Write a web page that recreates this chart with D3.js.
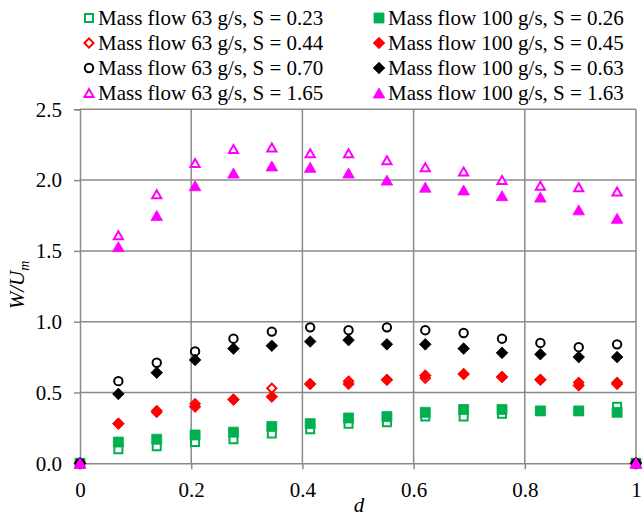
<!DOCTYPE html>
<html>
<head>
<meta charset="utf-8">
<script src="https://cdn.jsdelivr.net/npm/d3@7"></script>
<style>
  html, body { margin: 0; padding: 0; background: #fff; }
  svg { display: block; }
  text { font-family: "Liberation Serif", "Times New Roman", serif; }
</style>
</head>
<body>
<svg id="chart" width="642" height="517"></svg>
<script>
// ---- data ----
const dValues = [0, 0.069, 0.138, 0.207, 0.276, 0.345, 0.414, 0.483, 0.552, 0.621, 0.690, 0.759, 0.828, 0.897, 0.966, 1];

const seriesNames = [
  "Mass flow 63 g/s, S = 0.23", "Mass flow 100 g/s, S = 0.26",
  "Mass flow 63 g/s, S = 0.44", "Mass flow 100 g/s, S = 0.45",
  "Mass flow 63 g/s, S = 0.70", "Mass flow 100 g/s, S = 0.63",
  "Mass flow 63 g/s, S = 1.65", "Mass flow 100 g/s, S = 1.63"
];

const green63  = [0, 0.10, 0.12, 0.15, 0.17, 0.21, 0.24, 0.28, 0.29, 0.33, 0.33, 0.35, 0.37, 0.37, 0.40, 0];
const green100 = [0, 0.15, 0.17, 0.20, 0.22, 0.26, 0.28, 0.32, 0.33, 0.36, 0.38, 0.38, 0.37, 0.37, 0.36, 0];
const red63    = [0, 0.28, 0.36, 0.42, 0.45, 0.53, 0.56, 0.58, 0.59, 0.60, 0.63, 0.61, 0.59, 0.57, 0.57, 0];
const red100   = [0, 0.28, 0.37, 0.40, 0.45, 0.47, 0.56, 0.56, 0.59, 0.62, 0.63, 0.61, 0.59, 0.55, 0.56, 0];
const black63  = [0, 0.58, 0.71, 0.79, 0.88, 0.93, 0.96, 0.94, 0.96, 0.94, 0.92, 0.88, 0.85, 0.82, 0.84, 0];
const black100 = [0, 0.49, 0.64, 0.73, 0.81, 0.83, 0.86, 0.87, 0.84, 0.84, 0.81, 0.78, 0.77, 0.75, 0.75, 0];
const mag63    = [0, 1.61, 1.90, 2.12, 2.22, 2.23, 2.19, 2.19, 2.14, 2.09, 2.06, 2.00, 1.96, 1.95, 1.92, 0];
const mag100   = [0, 1.53, 1.75, 1.96, 2.05, 2.10, 2.09, 2.05, 2.00, 1.95, 1.93, 1.89, 1.88, 1.79, 1.73, 0];

const xTicks = [0, 0.2, 0.4, 0.6, 0.8, 1];
const yTicks = [0, 0.5, 1.0, 1.5, 2.0, 2.5];

// series in draw order (legend row-major)
const seriesValues = [green63, green100, red63, red100, black63, black100, mag63, mag100];
const seriesColors = ["#00B050", "#00B050", "#FF0000", "#FF0000", "#000000", "#000000", "#FF00FF", "#FF00FF"];
const seriesShapes = ["square", "square", "diamond", "diamond", "circle", "diamond", "triangle", "triangle"];
const seriesFilled = [false, true, false, true, false, true, false, true];

// ---- layout ----
const svg = d3.select("#chart");
const plot = { left: 80, right: 636, top: 109.3, bottom: 463.3 };
const x = d3.scaleLinear().domain([0, 1]).range([plot.left, plot.right]);
const y = d3.scaleLinear().domain([0, 2.5]).range([plot.bottom, plot.top]);
const gridColor = "#8a8a8a";

// gridlines
svg.append("g").selectAll("line.h").data(yTicks.filter(v => v > 0)).join("line")
  .attr("x1", plot.left).attr("x2", plot.right)
  .attr("y1", d => y(d)).attr("y2", d => y(d))
  .attr("stroke", gridColor).attr("stroke-width", 1.5);
svg.append("g").selectAll("line.v").data(xTicks.filter(v => v > 0)).join("line")
  .attr("x1", d => x(d)).attr("x2", d => x(d))
  .attr("y1", plot.top).attr("y2", plot.bottom)
  .attr("stroke", gridColor).attr("stroke-width", 1.5);

// axes
const yAxis = d3.axisLeft(y).tickValues(yTicks).tickFormat(d3.format(".1f")).tickSize(6).tickPadding(12);
const xAxis = d3.axisBottom(x).tickValues(xTicks).tickFormat(d => (d === 0 || d === 1) ? String(d) : d.toFixed(1)).tickSize(6).tickPadding(13);

const gy = svg.append("g").attr("transform", `translate(${plot.left},0)`).call(yAxis);
const gx = svg.append("g").attr("transform", `translate(0,${plot.bottom})`).call(xAxis);
[gx, gy].forEach(g => {
  g.select(".domain").attr("stroke", gridColor).attr("stroke-width", 1.5);
  g.selectAll(".tick line").attr("stroke", gridColor).attr("stroke-width", 1.5);
  g.selectAll(".tick text").attr("fill", "#000").style("font-size", "21px")
    .style("font-family", '"Liberation Serif", "Times New Roman", serif');
});

// markers
function markerPath(shape, filled) {
  if (shape === "square") {
    const h = filled ? 5 : 4;
    return `M${-h},${-h}H${h}V${h}H${-h}Z`;
  }
  if (shape === "diamond") {
    const r = filled ? 5.8 : 4.6;
    return `M0,${-r}L${r},0L0,${r}L${-r},0Z`;
  }
  if (shape === "circle") {
    const r = 4.2;
    return `M${r},0A${r},${r} 0 1,1 ${-r},0A${r},${r} 0 1,1 ${r},0Z`;
  }
  // triangle centred on its bounding box
  const w = filled ? 5.8 : 4.6, hh = filled ? 5 : 4;
  return `M0,${-hh}L${w},${hh}L${-w},${hh}Z`;
}

seriesValues.forEach((vals, i) => {
  const pts = dValues.map((d, k) => ({ d, v: vals[k] }));
  svg.append("g").selectAll("path").data(pts).join("path")
    .attr("transform", p => `translate(${x(p.d)},${y(p.v)})`)
    .attr("d", markerPath(seriesShapes[i], seriesFilled[i]))
    .attr("fill", seriesFilled[i] ? seriesColors[i] : "#fff")
    .attr("stroke", seriesColors[i])
    .attr("stroke-width", seriesFilled[i] ? 0.8 : 2);
});

// legend
const legendCols = [89, 379];
const legendRows = [25, 50, 75, 100];
const lg = svg.append("g");
seriesNames.forEach((name, i) => {
  const cx = legendCols[i % 2], by = legendRows[Math.floor(i / 2)];
  const cy = by - 7;
  lg.append("path")
    .attr("transform", `translate(${cx},${cy})`)
    .attr("d", markerPath(seriesShapes[i], seriesFilled[i]))
    .attr("fill", seriesFilled[i] ? seriesColors[i] : "#fff")
    .attr("stroke", seriesColors[i])
    .attr("stroke-width", seriesFilled[i] ? 0.8 : 2);
  lg.append("text").attr("x", cx + 9).attr("y", by)
    .style("font-size", "21px").attr("fill", "#000").text(name);
});

// axis titles
svg.append("text").attr("x", (plot.left + plot.right) / 2 + 1).attr("y", 512)
  .attr("text-anchor", "middle").style("font-size", "21px").style("font-style", "italic").text("d");

const yt = svg.append("text")
  .attr("transform", `translate(24,285) rotate(-90)`)
  .attr("text-anchor", "middle").style("font-size", "21px").style("font-style", "italic");
yt.append("tspan").text("W/U");
yt.append("tspan").attr("dy", 5).style("font-size", "14px").text("m");
</script>
</body>
</html>
